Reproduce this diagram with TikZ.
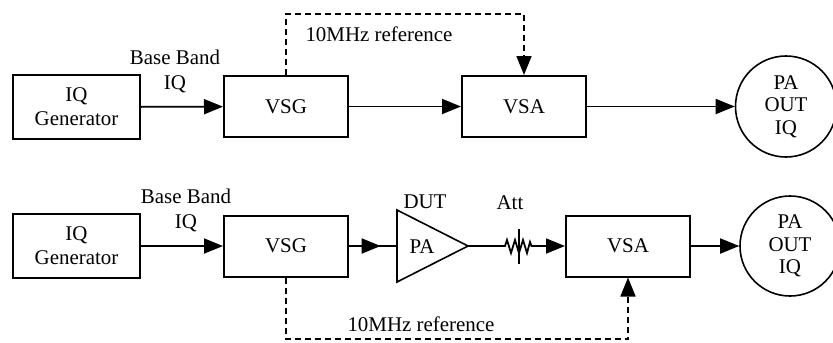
\documentclass[tikz,border=0pt]{standalone}
\usepackage{fontspec}
\setmainfont{Liberation Serif}
\usetikzlibrary{arrows.meta,decorations.markings}
\begin{document}
\begin{tikzpicture}[x=1bp,y=-1bp,
  every node/.style={font=\fontsize{21}{24}\selectfont, inner sep=0pt},
  blk/.style={draw, line width=2bp, minimum width=124bp, minimum height=61bp, align=center},
  circ/.style={draw, circle, line width=1.6bp, minimum size=101bp, align=center, font=\fontsize{21}{22.5}\selectfont},
  lbl/.style={align=center, font=\fontsize{21}{25}\selectfont},
  conn/.style={line width=1.8bp},
  arr/.style={conn, -{Triangle[length=19bp,width=15bp]}},
  refl/.style={line width=1.7bp, dash pattern=on 6bp off 4bp},
  refarr/.style={refl, -{Triangle[length=19bp,width=15bp]}},
  midarr/.style={conn, decoration={markings, mark=at position 0.66 with {\arrow{Triangle[length=19bp,width=15bp]}}}, postaction={decorate}}
]
\useasboundingbox (0,0) rectangle (833,342);
% ---------- top row
\node[blk, minimum width=127bp, minimum height=64bp] (gen1) at (76.5,107) {IQ\\Generator};
\node[blk] (vsg1) at (286,106.5) {VSG};
\node[blk] (vsa1) at (524,106.5) {VSA};
\node[circ] (out1) at (786,106.5) {PA\\OUT\\IQ};
\node[lbl] (bb1) at (175,71) {Base Band\\IQ};
\node[lbl] (ref1) at (379,34) {10MHz reference};
\coordinate (top1) at (0,14);
\draw[arr] (gen1) -- (vsg1);
\draw[arr] (vsg1) -- (vsa1);
\draw[arr] (vsa1) -- (out1);
\draw[refarr] (vsg1.north) -- (vsg1.north |- top1) -| (vsa1.north);
% ---------- bottom row
\node[blk, minimum width=127bp, minimum height=64bp] (gen2) at (76.5,246) {IQ\\Generator};
\node[blk] (vsg2) at (286,246) {VSG};
\node[blk] (vsa2) at (628,246) {VSA};
\node[circ, minimum size=100bp] (out2) at (790,246) {PA\\OUT\\IQ};
\node[lbl] (bb2) at (186,210) {Base Band\\IQ};
\coordinate (pain) at (397,246);
\coordinate (paout) at (468,246);
\draw[line width=1.6bp, line join=miter] (397,210) -- (paout) -- (397,282) -- cycle;
\node (pa) at (422,247) {PA};
\node (dut) at (425,202) {DUT};
\node (att) at (510,203) {Att};
\coordinate (attin) at (505,246);
\coordinate (attout) at (533,246);
\draw[arr] (gen2) -- (vsg2);
\draw[midarr] (vsg2.east) -- (pain);
\draw[conn, line join=miter] (paout) -- (attin) -- (507,240) -- (511,253) -- (515,240) -- (519,253) -- (523,240) -- (527,253) -- (530,242) -- (531.5,246) -- (attout);
\draw[line width=1.5bp] (519,229) -- (519,264);
\draw[arr] (attout) -- (vsa2);
\draw[arr] (vsa2) -- (out2);
\node[lbl] (ref2) at (421,324) {10MHz reference};
\coordinate (bot2) at (0,339);
\draw[refarr] (vsg2.south) -- (vsg2.south |- bot2) -| (vsa2.south);
\end{tikzpicture}
\end{document}
